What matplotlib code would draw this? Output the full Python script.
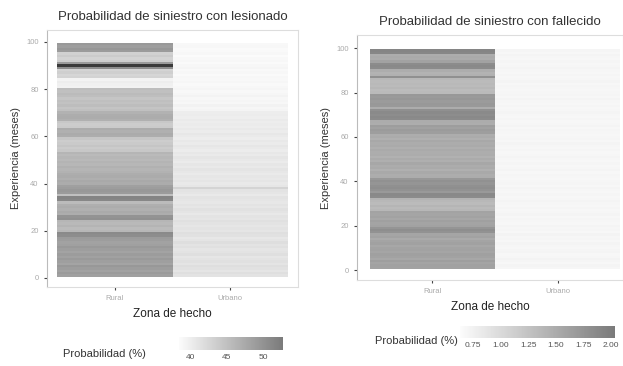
import numpy as np
import matplotlib
matplotlib.use("Agg")
import matplotlib.pyplot as plt
from matplotlib.colors import LinearSegmentedColormap

plt.rcParams['font.family'] = ['Liberation Sans', 'DejaVu Sans']

zonas = ["Rural", "Urbano"]
meses = list(range(1, 100))

# Probabilidad de siniestro con lesionado (%), meses 1..99
les_rural = [48.5, 49.0, 48.2, 48.8, 49.3, 48.0, 48.6, 49.1, 48.4, 48.9,
             48.1, 48.7, 49.2, 48.5, 48.3, 48.8, 49.0, 50.5, 50.8, 46.0,
             45.5, 46.3, 45.8, 46.1, 50.2, 49.8, 47.0, 47.4, 46.8, 47.2,
             46.9, 45.5, 51.2, 51.5, 45.0, 49.0, 49.4, 48.8, 48.5, 47.2,
             47.5, 46.9, 47.3, 47.0, 46.5, 46.2, 46.6, 46.0, 46.3, 45.8,
             46.1, 45.7, 46.2, 44.2, 43.8, 44.5, 44.0, 43.6, 44.3, 47.0,
             47.3, 46.8, 47.1, 44.0, 43.7, 44.2, 46.8, 47.2, 47.0, 46.5,
             45.0, 44.6, 45.3, 44.8, 45.1, 44.5, 45.2, 45.5, 45.0, 45.3,
             39.6, 39.8, 40.2, 39.5, 43.0, 42.6, 43.4, 42.8, 50.5, 56.5,
             49.0, 43.5, 43.0, 43.8, 43.2, 49.0, 49.5, 48.7, 49.2]
les_urbano = [41.2, 41.6, 41.0, 41.4, 41.8, 41.1, 41.5, 41.3, 40.9, 41.6,
              41.2, 41.0, 41.5, 41.3, 41.7, 41.1, 40.8, 41.4, 41.6, 41.0,
              41.3, 40.9, 41.2, 41.5, 41.0, 41.3, 40.7, 41.1, 41.4, 40.9,
              41.2, 40.8, 41.0, 41.3, 40.6, 41.0, 41.2, 42.8, 40.9, 40.6,
              41.0, 40.7, 40.9, 40.5, 40.8, 41.1, 40.6, 40.9, 40.4, 40.7,
              41.0, 40.5, 40.8, 40.3, 40.6, 40.9, 40.4, 40.7, 40.2, 40.5,
              40.8, 40.3, 40.6, 40.1, 40.4, 40.2, 40.5, 40.0, 40.3, 40.1,
              39.4, 39.2, 39.6, 39.1, 39.3, 39.0, 39.5, 39.2, 38.9, 39.3,
              39.0, 38.8, 39.2, 38.9, 39.1, 38.7, 39.0, 38.8, 39.3, 39.0,
              38.7, 39.1, 38.9, 38.6, 39.0, 38.8, 38.7, 39.1, 38.9]

# Probabilidad de siniestro con fallecido (%), meses 1..99
fal_rural = [1.60, 1.62, 1.58, 1.65, 1.55, 1.60, 1.63, 1.57, 1.61, 1.59,
             1.55, 1.62, 1.58, 1.52, 1.60, 1.57, 1.78, 1.82, 1.75, 1.60,
             1.58, 1.63, 1.55, 1.61, 1.57, 1.59, 1.38, 1.35, 1.40, 1.33,
             1.37, 1.42, 1.85, 1.88, 1.70, 1.78, 1.82, 1.80, 1.75, 1.79,
             1.72, 1.50, 1.48, 1.53, 1.46, 1.52, 1.49, 1.55, 1.47, 1.51,
             1.45, 1.50, 1.48, 1.52, 1.47, 1.52, 1.49, 1.54, 1.46, 1.51,
             1.48, 1.65, 1.68, 1.62, 1.66, 1.48, 1.50, 1.85, 1.88, 1.83,
             1.86, 1.80, 1.50, 1.70, 1.72, 1.68, 1.73, 1.69, 1.71, 1.35,
             1.32, 1.38, 1.34, 1.36, 1.33, 1.37, 1.80, 1.45, 1.42, 1.48,
             1.85, 1.88, 1.84, 1.60, 1.50, 1.52, 1.48, 1.90, 1.92]
fal_urbano = [0.70, 0.72, 0.69, 0.71, 0.73, 0.70, 0.68, 0.72, 0.71, 0.69,
              0.70, 0.72, 0.68, 0.71, 0.70, 0.73, 0.69, 0.71, 0.70, 0.72,
              0.68, 0.70, 0.71, 0.69, 0.72, 0.70, 0.68, 0.71, 0.69, 0.70,
              0.72, 0.70, 0.69, 0.71, 0.68, 0.70, 0.72, 0.69, 0.71, 0.70,
              0.68, 0.70, 0.71, 0.69, 0.72, 0.70, 0.68, 0.71, 0.69, 0.70,
              0.72, 0.70, 0.69, 0.71, 0.68, 0.70, 0.72, 0.69, 0.71, 0.70,
              0.68, 0.70, 0.71, 0.69, 0.72, 0.70, 0.68, 0.71, 0.69, 0.70,
              0.72, 0.70, 0.69, 0.71, 0.68, 0.70, 0.72, 0.69, 0.71, 0.70,
              0.68, 0.70, 0.71, 0.69, 0.72, 0.70, 0.68, 0.71, 0.69, 0.70,
              0.72, 0.70, 0.69, 0.71, 0.68, 0.70, 0.72, 0.69, 0.71]

cmap = LinearSegmentedColormap.from_list("grises", ["#fcfcfc", "#7a7a7a"])
cmap.set_over("#3a3a3a")

fig = plt.figure(figsize=(6.23, 3.66), dpi=100)
fig.patch.set_facecolor("white")


def panel(rect, rural, urbano, vmin, vmax, xlim, ylim, titulo):
    ax = fig.add_axes(rect)
    z = np.column_stack([rural, urbano])
    xe = np.arange(len(zonas) + 1) - 0.5
    ye = np.arange(len(meses) + 1) + 0.5
    m = ax.pcolormesh(xe, ye, z, cmap=cmap, vmin=vmin, vmax=vmax, shading="flat")
    ax.set_xlim(*xlim)
    ax.set_ylim(*ylim)
    ax.set_xticks(range(len(zonas)))
    ax.set_xticklabels(zonas)
    ax.set_yticks([0, 20, 40, 60, 80, 100])
    ax.tick_params(colors="#444444", labelcolor="#aaaaaa", labelsize=5.5,
                   length=2.5, width=0.8)
    for s in ax.spines.values():
        s.set_color("#dddddd")
        s.set_linewidth(0.8)
    ax.spines["left"].set_color("#bbbbbb")
    ax.set_title(titulo, fontsize=9.5, color="#333333", pad=7)
    ax.set_xlabel("Zona de hecho", fontsize=8.5, color="#222222", labelpad=4)
    ax.set_ylabel("Experiencia (meses)", fontsize=8, color="#333333", labelpad=4)
    return m


m1 = panel([0.0754, 0.216, 0.403, 0.702], les_rural, les_urbano, 38.5, 52.6,
           (-0.59, 1.59), (-3.8, 105), "Probabilidad de siniestro con lesionado")
m2 = panel([0.573, 0.235, 0.427, 0.669], fal_rural, fal_urbano, 0.63, 2.04,
           (-0.6, 1.52), (-4.5, 105.9), "Probabilidad de siniestro con fallecido")


def barra(m, rect, ticks, labels, tx, ty):
    cax = fig.add_axes(rect)
    cb = fig.colorbar(m, cax=cax, orientation="horizontal", ticks=ticks)
    cb.outline.set_visible(False)
    cb.ax.set_xticklabels(labels)
    cb.ax.tick_params(labelsize=6, labelcolor="#555555", length=0, pad=3)
    fig.text(tx, ty, "Probabilidad (%)", fontsize=8, color="#333333",
             ha="left", va="center")


barra(m1, [179 / 623, 1 - 350 / 366, 104 / 623, 13 / 366],
      [40, 45, 50], ["40", "45", "50"], 63 / 623, 1 - 354 / 366)
barra(m2, [460 / 623, 1 - 338 / 366, 155 / 623, 12 / 366],
      [0.75, 1.0, 1.25, 1.5, 1.75, 2.0],
      ["0.75", "1.00", "1.25", "1.50", "1.75", "2.00"],
      375 / 623, 1 - 341 / 366)

fig.savefig("out.png", dpi=100)
